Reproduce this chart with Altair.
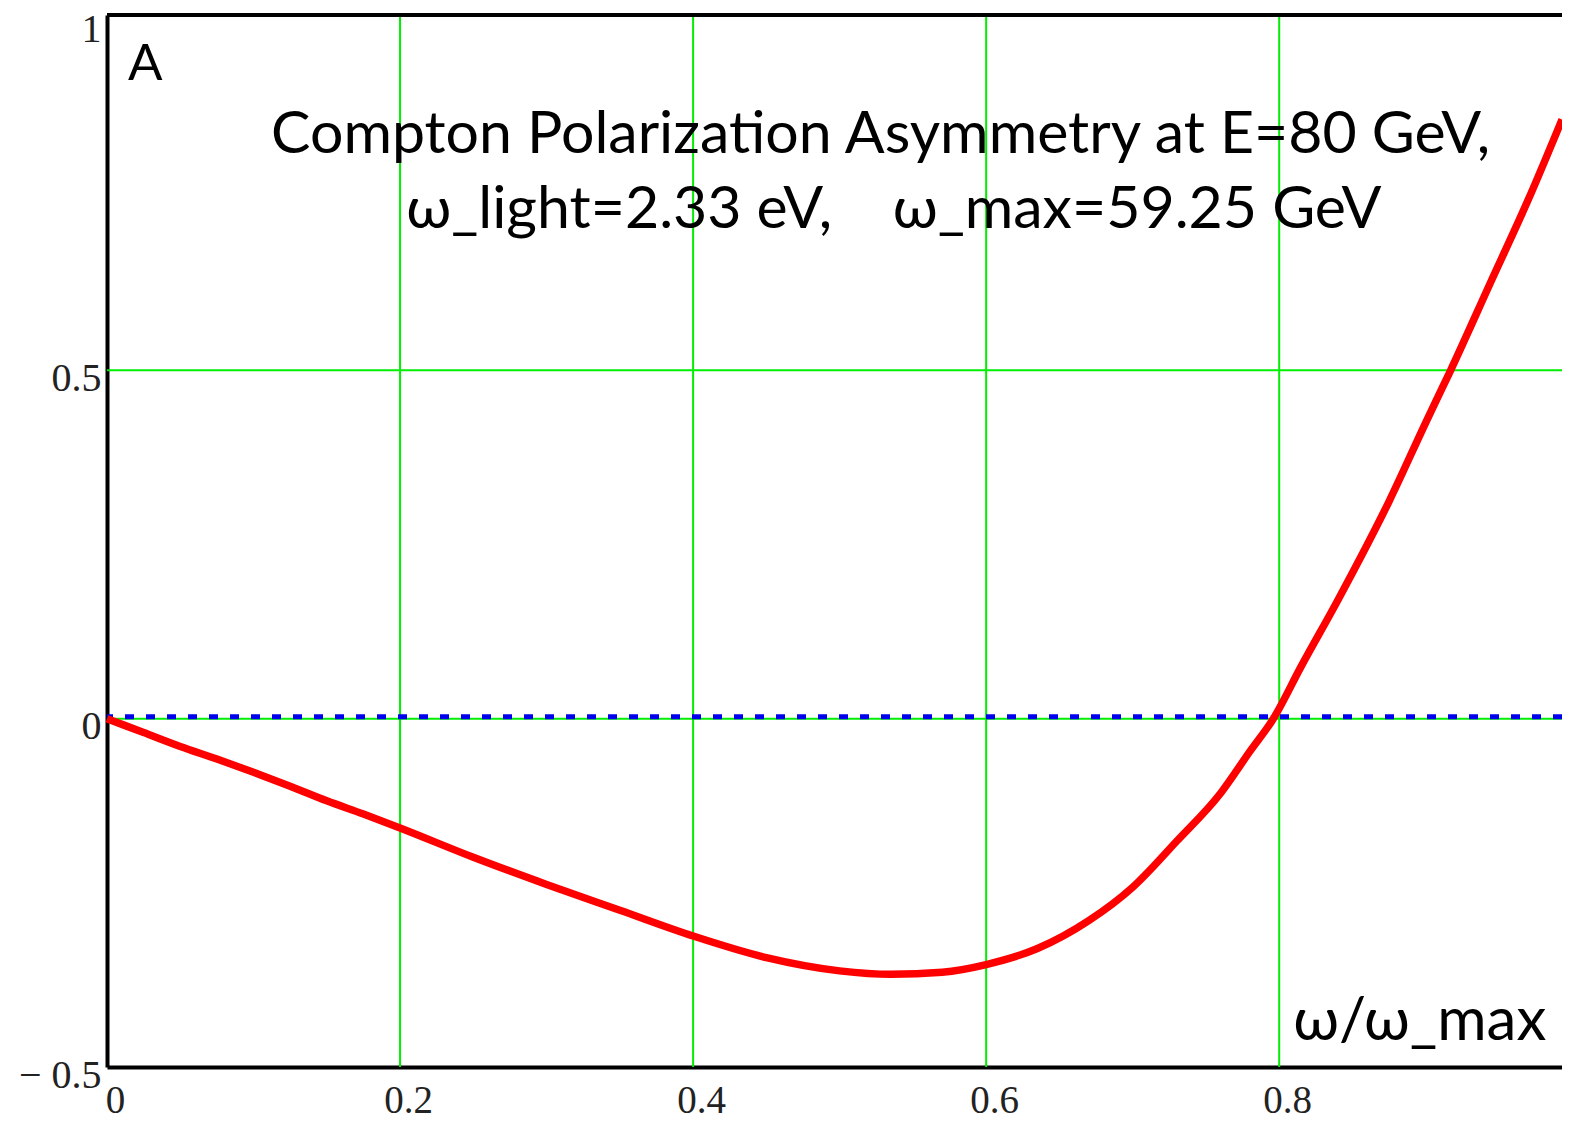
import altair as alt
import pandas as pd

# omega / omega_max and Compton polarization asymmetry
ratio = [0.0, 0.025, 0.05, 0.075, 0.1, 0.125, 0.15, 0.175, 0.2, 0.25, 0.3, 0.35,
         0.4, 0.45, 0.5, 0.535, 0.57, 0.6, 0.635, 0.67, 0.7, 0.73, 0.76, 0.78,
         0.796, 0.815, 0.84, 0.875, 0.9, 0.917, 0.944, 0.97, 0.993]
asym = [0.0, -0.02, -0.04, -0.058, -0.077, -0.097, -0.118, -0.137, -0.157, -0.199, -0.238, -0.275,
        -0.312, -0.343, -0.362, -0.367, -0.364, -0.353, -0.33, -0.29, -0.242, -0.176, -0.107, -0.047,
        0.0, 0.075, 0.17, 0.312, 0.425, 0.5, 0.625, 0.745, 0.86]

x_ticks = [0, 0.2, 0.4, 0.6, 0.8]
y_ticks = [-0.5, 0, 0.5, 1]
x_grid = [0.2, 0.4, 0.6, 0.8]
y_grid = [0, 0.5]

title_line1 = "Compton Polarization Asymmetry at E=80 GeV,"
title_line2 = "\u03c9_light=2.33 eV,\u00a0\u00a0\u00a0 \u03c9_max=59.25 GeV"
panel_label = "A"
x_label = "\u03c9/\u03c9_max"

X_DOMAIN = [0, 0.993]
Y_DOMAIN = [-0.5, 1.01]

curve = pd.DataFrame({"ratio": ratio, "asym": asym})

xs = alt.Scale(domain=X_DOMAIN, nice=False, zero=False)
ys = alt.Scale(domain=Y_DOMAIN, nice=False, zero=False)

x_axis = alt.Axis(values=x_ticks, title=None, grid=False, ticks=False,
                  domainColor="black", domainWidth=4,
                  labelFont="Liberation Serif", labelFontSize=39, labelColor="#222",
                  labelPadding=33, labelBaseline="middle", labelOffset=8,
                  labelFlush=False, labelExpr="'' + datum.value")
y_axis = alt.Axis(values=y_ticks, title=None, grid=False, ticks=False,
                  domainColor="black", domainWidth=4,
                  labelFont="Liberation Serif", labelFontSize=40, labelColor="#222",
                  labelPadding=6, labelBaseline="middle", labelOffset=8,
                  labelExpr="datum.value < 0 ? '\u2212 ' + (-datum.value) : '' + datum.value")

vgrid = alt.Chart(pd.DataFrame({"g": x_grid})).mark_rule(color="#00ee00", strokeWidth=2).encode(
    x=alt.X("g:Q", scale=xs, axis=x_axis))
hgrid = alt.Chart(pd.DataFrame({"g": y_grid})).mark_rule(color="#00ee00", strokeWidth=2).encode(
    y=alt.Y("g:Q", scale=ys, axis=y_axis))

zero_line = alt.Chart(pd.DataFrame({"z": [0]})).mark_rule(
    color="#0000ee", strokeWidth=5, strokeDash=[9, 12], yOffset=-2).encode(
    y=alt.Y("z:Q", scale=ys, axis=y_axis))

top_frame = alt.Chart(pd.DataFrame({"t": [Y_DOMAIN[1]]})).mark_rule(
    color="black", strokeWidth=4).encode(y=alt.Y("t:Q", scale=ys, axis=y_axis))

line = alt.Chart(curve).mark_line(color="#ff0000", strokeWidth=7.5, interpolate="monotone").encode(
    x=alt.X("ratio:Q", scale=xs, axis=x_axis),
    y=alt.Y("asym:Q", scale=ys, axis=y_axis))

TITLE_FONT = "Lato"
texts = pd.DataFrame({
    "tx": [0.528, 0.537],
    "ty": [0.8115, 0.704],
    "label": [title_line1, title_line2],
})
title = alt.Chart(texts).mark_text(font=TITLE_FONT, fontSize=59, color="black",
                                   align="center", baseline="alphabetic").encode(
    x=alt.X("tx:Q", scale=xs, axis=x_axis),
    y=alt.Y("ty:Q", scale=ys, axis=y_axis),
    text="label:N")

a_lbl = alt.Chart(pd.DataFrame({"tx": [0.0143], "ty": [0.916], "label": [panel_label]})).mark_text(
    font=TITLE_FONT, fontSize=51, color="black", align="left", baseline="alphabetic").encode(
    x=alt.X("tx:Q", scale=xs, axis=x_axis),
    y=alt.Y("ty:Q", scale=ys, axis=y_axis),
    text="label:N")

xl = alt.Chart(pd.DataFrame({"tx": [0.9823], "ty": [-0.461], "label": [x_label]})).mark_text(
    font=TITLE_FONT, fontSize=60, color="black", align="right", baseline="alphabetic").encode(
    x=alt.X("tx:Q", scale=xs, axis=x_axis),
    y=alt.Y("ty:Q", scale=ys, axis=y_axis),
    text="label:N")

chart = alt.layer(vgrid, hgrid, zero_line, top_frame, line, title, a_lbl, xl).properties(
    width=1455, height=1052,
    autosize=alt.AutoSizeParams(type="none"),
    padding={"left": 99, "top": 7, "right": 0, "bottom": 53},
).configure_view(stroke=None).configure(background="white")

chart.save("out.html", embed_options={"renderer": "svg", "actions": False})
